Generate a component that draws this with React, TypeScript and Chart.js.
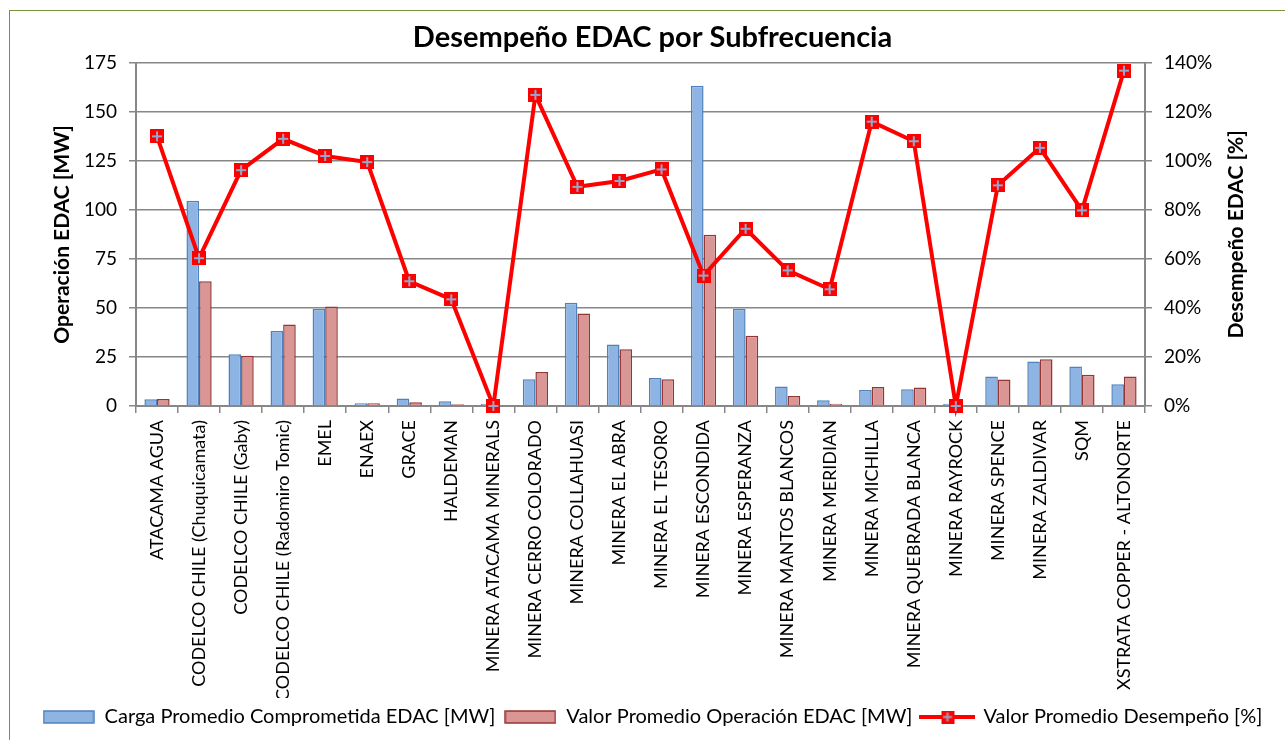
import { useEffect, useRef } from "react";
import { Chart, registerables } from "chart.js";

Chart.register(...registerables);

const categories = [
  "ATACAMA AGUA",
  "CODELCO CHILE (Chuquicamata)",
  "CODELCO CHILE (Gaby)",
  "CODELCO CHILE (Radomiro Tomic)",
  "EMEL",
  "ENAEX",
  "GRACE",
  "HALDEMAN",
  "MINERA ATACAMA MINERALS",
  "MINERA CERRO COLORADO",
  "MINERA COLLAHUASI",
  "MINERA EL ABRA",
  "MINERA EL TESORO",
  "MINERA ESCONDIDA",
  "MINERA ESPERANZA",
  "MINERA MANTOS BLANCOS",
  "MINERA MERIDIAN",
  "MINERA MICHILLA",
  "MINERA QUEBRADA BLANCA",
  "MINERA RAYROCK",
  "MINERA SPENCE",
  "MINERA ZALDIVAR",
  "SQM",
  "XSTRATA COPPER - ALTONORTE",
];

const cargaMW = [3.4, 104.6, 26.4, 38.2, 49.6, 1.4, 3.8, 2.4, 1.2, 13.6, 52.7, 31.4, 14.3, 163.3, 49.6, 9.9, 2.9, 8.2, 8.5, 1.2, 15.0, 22.7, 20.1, 11.1];
const operacionMW = [3.6, 63.6, 25.6, 41.6, 50.7, 1.4, 1.9, 0.9, 0, 17.4, 47.2, 29.0, 13.6, 87.3, 35.8, 5.1, 1.2, 9.7, 9.4, 0, 13.5, 23.9, 15.9, 15.0];
const desempenoPct = [110, 60.3, 96.2, 109, 102, 99.5, 50.9, 43.5, 0, 126.9, 89.4, 91.8, 96.5, 53.2, 72.3, 55.3, 47.6, 116, 108, 0, 90, 105.3, 79.8, 136.8];

const mwTicks = [0, 25, 50, 75, 100, 125, 150, 175];
const mwGridLines = [0, 12.5, 25, 37.5, 50, 62.5, 75, 87.5, 100, 112.5, 125, 137.5, 150, 162.5, 175];
const pctTicks = [0, 20, 40, 60, 80, 100, 120, 140];

const TITLE = "Desempeño EDAC por Subfrecuencia";
const LEFT_TITLE = "Operación EDAC [MW]";
const RIGHT_TITLE = "Desempeño EDAC [%]";
const SERIES_NAMES = [
  "Carga Promedio Comprometida EDAC [MW]",
  "Valor Promedio Operación EDAC [MW]",
  "Valor Promedio Desempeño [%]",
];

const FONT = "Lato";
const BLUE_FILL = "#8EB4E3";
const BLUE_BORDER = "#4F81BD";
const RED_FILL = "#D99694";
const RED_BORDER = "#943634";
const LINE_RED = "#FF0000";
const PLUS_COLOR = "#93A9CC";
const GRID_MAJOR = "#878787";
const GRID_MINOR = "#C0C0C0";

function makeMarker(size: number): HTMLCanvasElement {
  const c = document.createElement("canvas");
  c.width = size;
  c.height = size;
  const g = c.getContext("2d")!;
  g.fillStyle = LINE_RED;
  g.fillRect(0, 0, size, size);
  g.strokeStyle = PLUS_COLOR;
  g.lineWidth = 2;
  const m = size / 2;
  g.beginPath();
  g.moveTo(2, m);
  g.lineTo(size - 2, m);
  g.moveTo(m, 2);
  g.lineTo(m, size - 2);
  g.stroke();
  return c;
}

function makeBox(fill: string, border: string): HTMLCanvasElement {
  const c = document.createElement("canvas");
  c.width = 52;
  c.height = 14;
  const g = c.getContext("2d")!;
  g.fillStyle = fill;
  g.fillRect(1, 1, 50, 12);
  g.strokeStyle = border;
  g.lineWidth = 1.5;
  g.strokeRect(1, 1, 50, 12);
  return c;
}

function makeLineLegend(): HTMLCanvasElement {
  const c = document.createElement("canvas");
  c.width = 56;
  c.height = 14;
  const g = c.getContext("2d")!;
  g.strokeStyle = LINE_RED;
  g.lineWidth = 4;
  g.beginPath();
  g.moveTo(0, 7);
  g.lineTo(56, 7);
  g.stroke();
  const mk = makeMarker(13);
  g.drawImage(mk, 28 - 6.5, 0.5);
  return c;
}

const rightTitlePlugin = {
  id: "rightTitle",
  afterDraw(chart: any) {
    const s = chart.scales.y1;
    const ctx = chart.ctx;
    ctx.save();
    ctx.font = `bold 21px ${FONT}`;
    ctx.fillStyle = "#000";
    ctx.textAlign = "center";
    ctx.textBaseline = "middle";
    ctx.translate(s.right - 36 - 12.6, (s.top + s.bottom) / 2);
    ctx.rotate(-Math.PI / 2);
    ctx.fillText(RIGHT_TITLE, 0, 0);
    ctx.restore();
  },
};

export default function App() {
  const ref = useRef<HTMLCanvasElement | null>(null);

  useEffect(() => {
    if (!ref.current) return;
    const marker = makeMarker(14);
    const legendImgs = [
      makeBox(BLUE_FILL, BLUE_BORDER),
      makeBox(RED_FILL, RED_BORDER),
      makeLineLegend(),
    ];

    const chart = new Chart(ref.current, {
      type: "bar",
      data: {
        labels: categories,
        datasets: [
          {
            type: "bar",
            label: SERIES_NAMES[0],
            data: cargaMW,
            backgroundColor: BLUE_FILL,
            borderColor: BLUE_BORDER,
            borderWidth: 1.5,
            yAxisID: "y",
            order: 1,
            categoryPercentage: 0.6,
            barPercentage: 1.0,
          },
          {
            type: "bar",
            label: SERIES_NAMES[1],
            data: operacionMW,
            backgroundColor: RED_FILL,
            borderColor: RED_BORDER,
            borderWidth: 1.5,
            yAxisID: "y",
            order: 2,
            categoryPercentage: 0.6,
            barPercentage: 1.0,
          },
          {
            type: "line",
            label: SERIES_NAMES[2],
            data: desempenoPct,
            borderColor: LINE_RED,
            backgroundColor: LINE_RED,
            borderWidth: 4,
            pointStyle: marker as any,
            pointRadius: 7,
            tension: 0,
            yAxisID: "y1",
            order: 0,
            clip: false as any,
          },
        ],
      } as any,
      options: {
        animation: false,
        responsive: false,
        maintainAspectRatio: false,
        layout: { padding: { left: 10, right: 0, top: 0, bottom: 3 } },
        plugins: {
          tooltip: { enabled: false },
          title: {
            display: true,
            text: TITLE,
            color: "#000",
            font: { family: FONT, size: 29, weight: "bold" },
            padding: { top: 9, bottom: 8 },
          },
          legend: {
            display: true,
            position: "bottom",
            labels: {
              color: "#000",
              font: { family: FONT, size: 20 },
              usePointStyle: true,
              pointStyleWidth: 52,
              boxHeight: 14,
              padding: 9,
              generateLabels: (ch: any) =>
                ch.data.datasets.map((ds: any, i: number) => ({
                  text: ds.label,
                  pointStyle: legendImgs[i],
                  fillStyle: "transparent",
                  strokeStyle: "transparent",
                  lineWidth: 0,
                  hidden: false,
                  datasetIndex: i,
                  fontColor: "#000",
                })),
            },
          },
        },
        scales: {
          x: {
            afterFit: (s: any) => {
              s.height = 292;
            },
            grid: {
              display: true,
              drawOnChartArea: false,
              offset: true,
              tickLength: 7,
              color: GRID_MAJOR,
              lineWidth: 1.5,
            },
            border: { display: true, color: GRID_MAJOR, width: 2 },
            ticks: {
              autoSkip: false,
              maxRotation: 90,
              minRotation: 90,
              padding: 7,
              color: "#000",
              font: { family: FONT, size: 18 },
            },
          },
          y: {
            position: "left",
            min: 0,
            max: 175,
            afterFit: (s: any) => {
              s.width = 116;
            },
            afterBuildTicks: (s: any) => {
              s.ticks = mwGridLines.map((v) => ({ value: v }));
            },
            grid: {
              color: (c: any) => (mwTicks.includes(c.tick.value) ? GRID_MAJOR : GRID_MINOR),
              tickColor: (c: any) => (mwTicks.includes(c.tick.value) ? GRID_MAJOR : "rgba(0,0,0,0)"),
              lineWidth: 1.5,
              tickLength: 7,
            },
            border: { display: true, color: GRID_MAJOR, width: 2 },
            ticks: {
              padding: 12,
              color: "#000",
              font: { family: FONT, size: 19 },
              callback: (v: any) => (mwTicks.includes(Number(v)) ? String(v) : ""),
            },
            title: {
              display: true,
              text: LEFT_TITLE,
              color: "#000",
              font: { family: FONT, size: 21, weight: "bold" },
              padding: { top: 30, bottom: 0 },
            },
          },
          y1: {
            position: "right",
            min: 0,
            max: 140,
            afterFit: (s: any) => {
              s.width = 140;
            },
            afterBuildTicks: (s: any) => {
              s.ticks = pctTicks.map((v) => ({ value: v }));
            },
            grid: {
              drawOnChartArea: false,
              color: GRID_MAJOR,
              tickColor: GRID_MAJOR,
              lineWidth: 1.5,
              tickLength: 7,
            },
            border: { display: true, color: GRID_MAJOR, width: 2 },
            ticks: {
              padding: 12,
              color: "#000",
              font: { family: FONT, size: 19 },
              callback: (v: any) => `${v}%`,
            },
            title: {
              display: true,
              text: RIGHT_TITLE,
              color: "rgba(0,0,0,0)",
              font: { family: FONT, size: 21, weight: "bold" },
              padding: { top: 36, bottom: 0 },
            },
          },
        },
      } as any,
      plugins: [rightTitlePlugin],
    });
    return () => chart.destroy();
  }, []);

  return (
    <div
      style={{
        position: "fixed",
        left: 9,
        top: 10,
        width: 1276,
        height: 730,
        borderLeft: "1.5px solid #77933C",
        borderTop: "1.5px solid #77933C",
        background: "#fff",
        boxSizing: "border-box",
      }}
    >
      <canvas ref={ref} width={1275} height={729} style={{ display: "block", width: 1275, height: 729 }} />
    </div>
  );
}
